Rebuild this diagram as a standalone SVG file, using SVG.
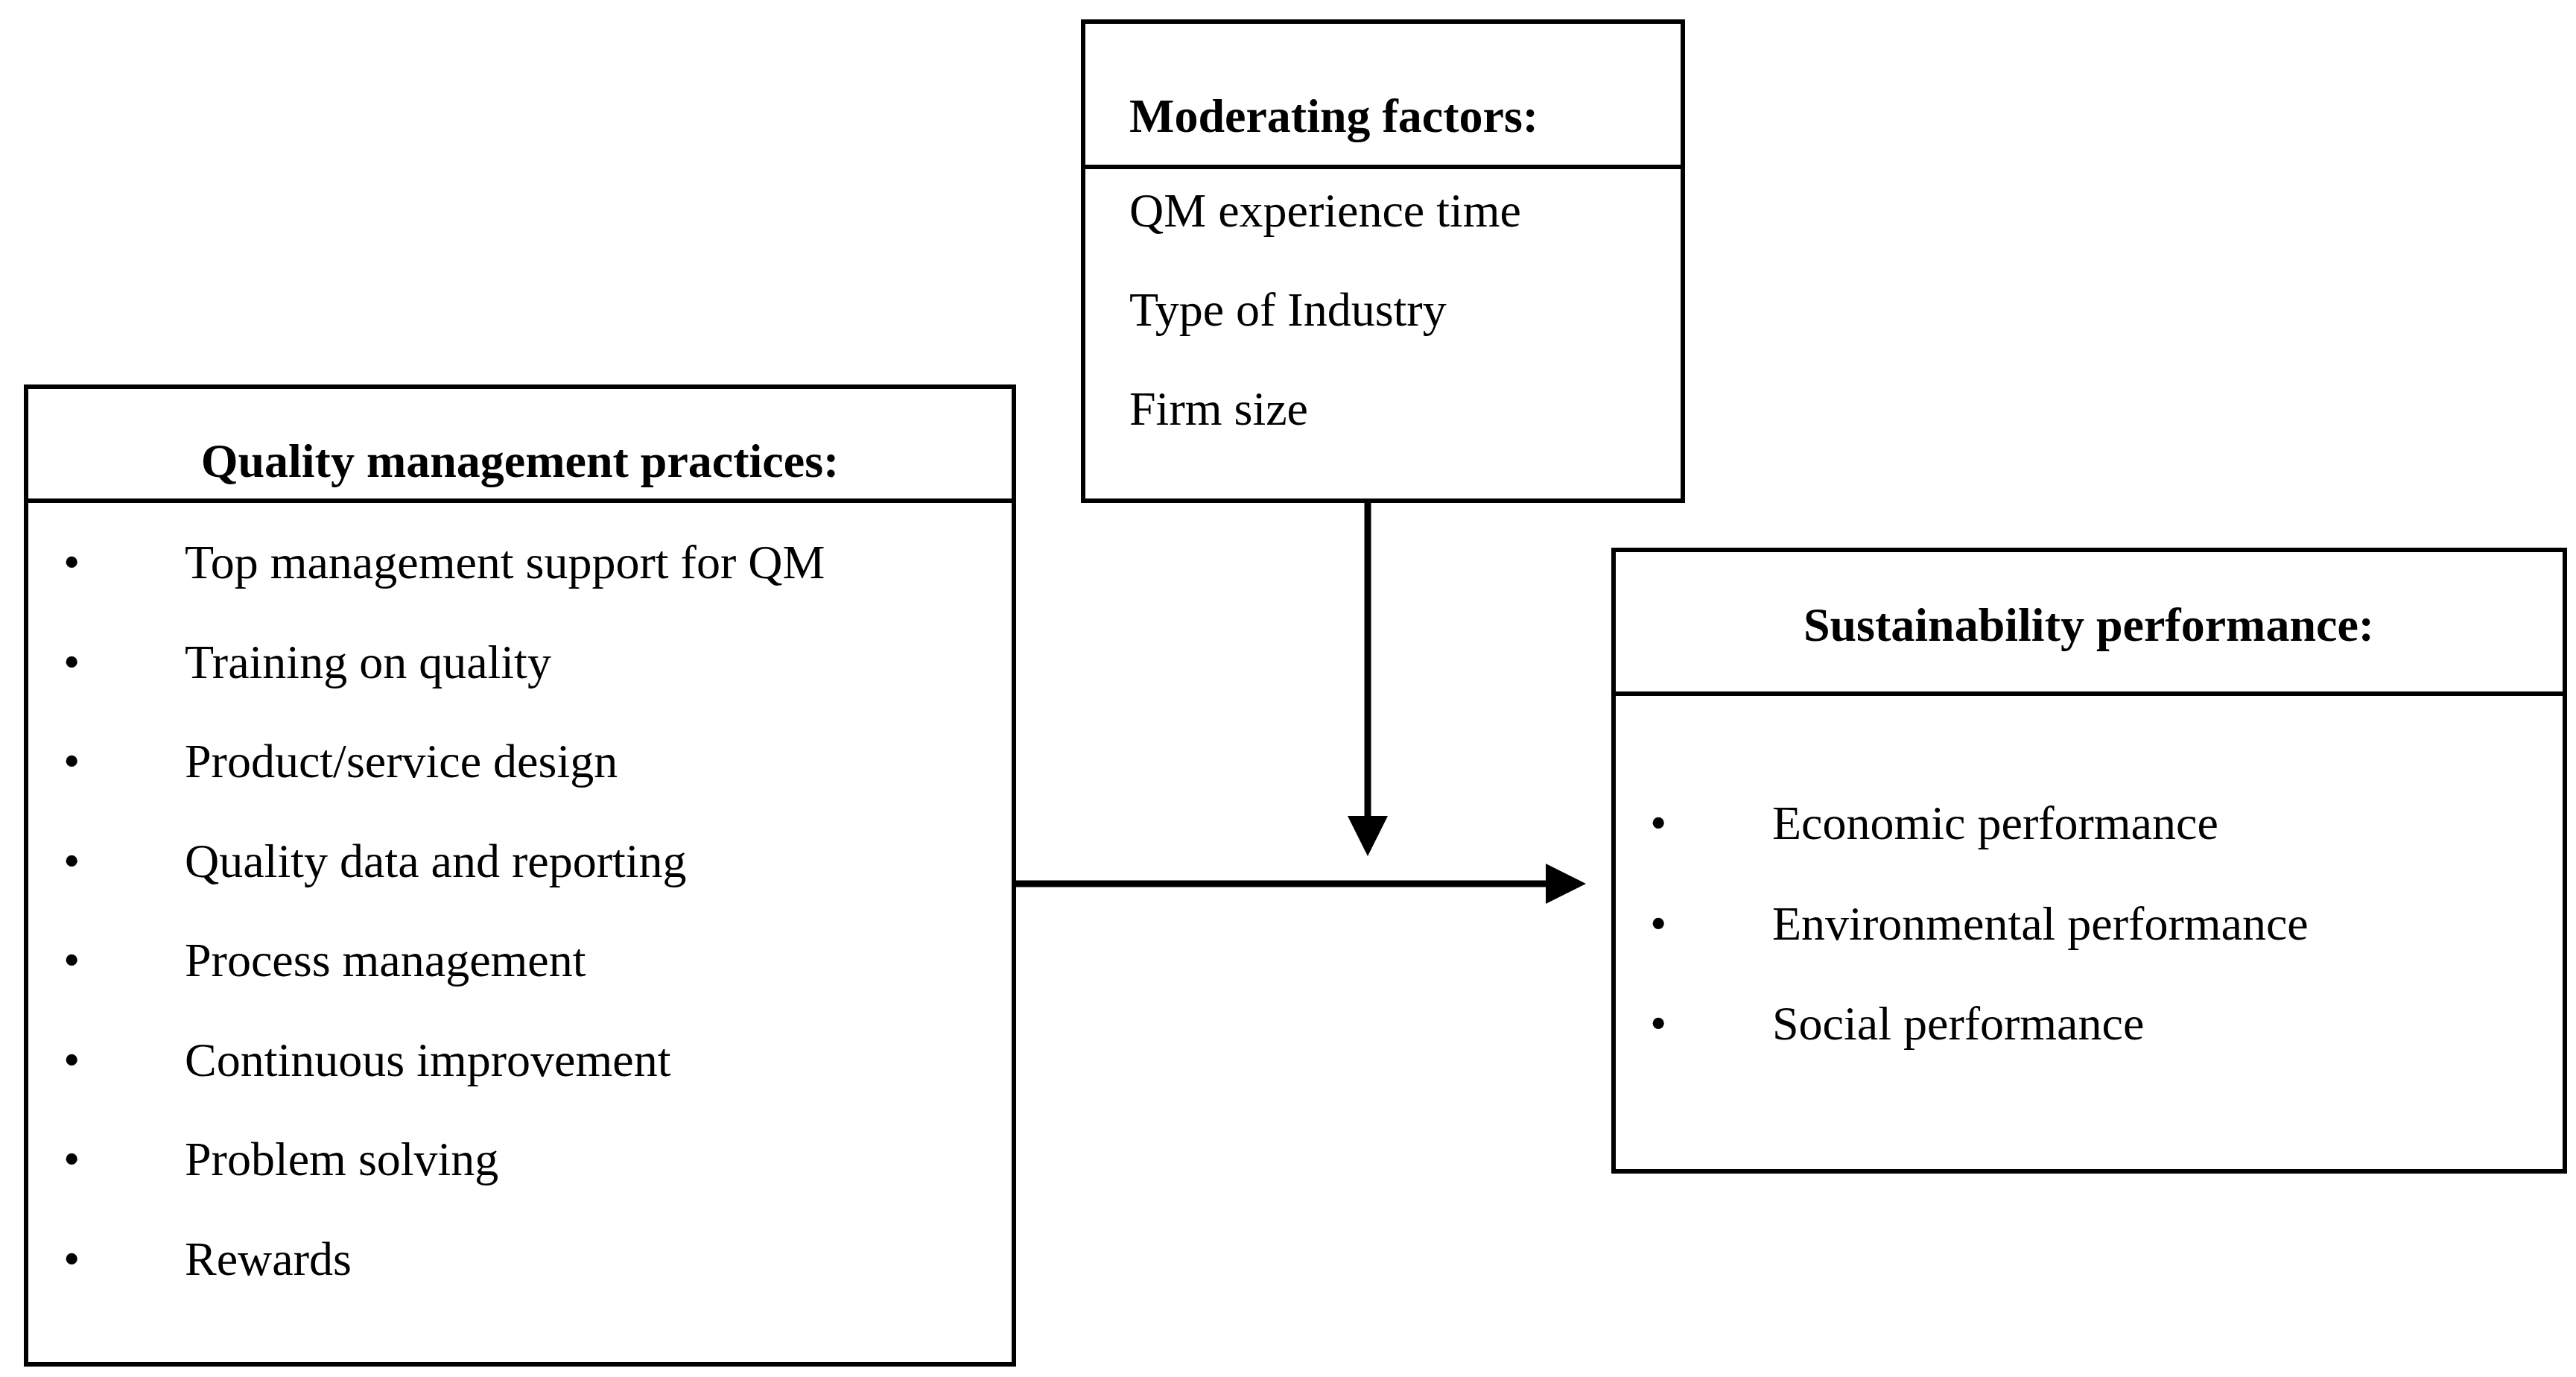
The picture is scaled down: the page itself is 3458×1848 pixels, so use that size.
<svg xmlns="http://www.w3.org/2000/svg" width="3458" height="1848" viewBox="0 0 3458 1848">
<style>
.box{fill:#fff;stroke:#000;stroke-width:6}
.ln{stroke:#000;stroke-width:6}
text{font-family:"Liberation Serif",serif;font-size:64px;fill:#000}
.b{font-weight:bold}
.c{stroke:#000;stroke-width:9;fill:none}
</style>
<defs><marker id="ah" markerWidth="6" markerHeight="6" refX="5" refY="3" orient="auto" markerUnits="strokeWidth"><path d="M0,0 L6,3 L0,6 Z" fill="#000"/></marker></defs>
<rect width="3458" height="1848" fill="#fff"/>
<g id="qm">
<rect class="box" x="35" y="519" width="1326" height="1312"/>
<line class="ln" x1="35" y1="672" x2="1361" y2="672"/>
<text class="b" x="698" y="640" text-anchor="middle">Quality management practices:</text>
<g>
<text x="85" y="776">•</text><text x="248" y="776">Top management support for QM</text>
<text x="85" y="910">•</text><text x="248" y="910">Training on quality</text>
<text x="85" y="1043">•</text><text x="248" y="1043">Product/service design</text>
<text x="85" y="1177">•</text><text x="248" y="1177">Quality data and reporting</text>
<text x="85" y="1310">•</text><text x="248" y="1310">Process management</text>
<text x="85" y="1444">•</text><text x="248" y="1444">Continuous improvement</text>
<text x="85" y="1577">•</text><text x="248" y="1577">Problem solving</text>
<text x="85" y="1711">•</text><text x="248" y="1711">Rewards</text>
</g>
</g>
<g id="mod">
<rect class="box" x="1454" y="29" width="805" height="643"/>
<line class="ln" x1="1454" y1="224" x2="2259" y2="224"/>
<text class="b" x="1516" y="177">Moderating factors:</text>
<text x="1516" y="304">QM experience time</text>
<text x="1516" y="437">Type of Industry</text>
<text x="1516" y="570">Firm size</text>
</g>
<g id="sus">
<rect class="box" x="2166" y="738" width="1277" height="834"/>
<line class="ln" x1="2166" y1="931" x2="3443" y2="931"/>
<text class="b" x="2804" y="860" text-anchor="middle">Sustainability performance:</text>
<text x="2215" y="1126">•</text><text x="2379" y="1126">Economic performance</text>
<text x="2215" y="1261">•</text><text x="2379" y="1261">Environmental performance</text>
<text x="2215" y="1395">•</text><text x="2379" y="1395">Social performance</text>
</g>
<g id="connectors">
<line class="c" x1="1361" y1="1186" x2="2120" y2="1186" marker-end="url(#ah)"/>
<line class="c" x1="1836" y1="672" x2="1836" y2="1140" marker-end="url(#ah)"/>
</g>
</svg>
